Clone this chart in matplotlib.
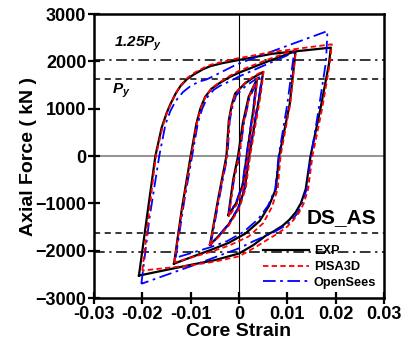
import matplotlib
matplotlib.use("Agg")
import matplotlib.pyplot as plt
import numpy as np

plt.rcParams["font.family"] = ["Liberation Sans", "DejaVu Sans"]
plt.rcParams["font.weight"] = "bold"
plt.rcParams["mathtext.fontset"] = "custom"
plt.rcParams["mathtext.it"] = "Liberation Sans:italic:bold"
plt.rcParams["mathtext.rm"] = "Liberation Sans:italic:bold"

# Yield force of the core (kN)
PY = 1620

# Hysteresis loops, each listed as (core strain, axial force in kN)
EXP_SMALL = [(-0.0022, -1250), (-0.0012, -500), (-0.0002, 0), (0.0008, 700), (0.0020, 1250),
             (0.0037, 1620), (0.0030, 1000), (0.0016, 0), (0.0008, -600), (-0.0006, -1000),
             (-0.0022, -1250)]
EXP_INNER = [(-0.0060, -1874), (-0.0043, -900), (-0.0026, 0), (-0.0021, 760), (-0.0015, 1080),
             (-0.0008, 1320), (0.0012, 1530), (0.0030, 1660), (0.0050, 1775), (0.0043, 1300),
             (0.0021, 0), (0.0012, -680), (-0.0001, -1100), (-0.0022, -1453), (-0.0043, -1699),
             (-0.0060, -1874)]
EXP_MID = [(-0.01345, -2274), (-0.0118, -1100), (-0.0100, 0), (-0.0088, 690), (-0.0080, 1000),
           (-0.0070, 1250), (-0.0057, 1420), (-0.0042, 1530), (-0.0019, 1670), (0.0, 1760),
           (0.0060, 2000), (0.0117, 2217), (0.0105, 1100), (0.0083, 0), (0.0076, -702),
           (0.0062, -1053), (0.0043, -1370), (0.0013, -1640), (-0.0022, -1838), (-0.0057, -1979),
           (-0.01345, -2274)]
EXP_BIG = [(-0.0207, -2526), (-0.0190, -1250), (-0.0173, 0), (-0.0160, 600), (-0.0150, 900),
           (-0.0142, 1095), (-0.0131, 1320), (-0.0121, 1480), (-0.0108, 1620), (-0.0093, 1726),
           (-0.0075, 1830), (-0.0059, 1900), (-0.0035, 1960), (-0.0010, 2010), (0.0069, 2160),
           (0.0190, 2290), (0.0186, 1940), (0.0169, 1025), (0.0148, 0), (0.0138, -700),
           (0.0128, -1000), (0.0117, -1193), (0.0104, -1350), (0.0090, -1474), (0.0072, -1590),
           (0.0055, -1684), (0.0030, -1880), (0.0, -2060), (-0.0050, -2200), (-0.0100, -2300),
           (-0.0207, -2526)]

PISA_SMALL = [(-0.0021, -1280), (-0.0011, -520), (0.0000, 0), (0.0010, 720), (0.0022, 1270),
              (0.0038, 1650), (0.0032, 1000), (0.0018, 0), (0.0010, -620), (-0.0005, -1030),
              (-0.0021, -1280)]
PISA_INNER = [(-0.0060, -1880), (-0.0042, -900), (-0.0025, 0), (-0.0020, 780), (-0.0014, 1100),
              (-0.0007, 1330), (0.0013, 1550), (0.0031, 1690), (0.0051, 1800), (0.0045, 1300),
              (0.0023, 0), (0.0014, -680), (0.0, -1120), (-0.0022, -1480), (-0.0043, -1720),
              (-0.0060, -1880)]
PISA_MID = [(-0.0134, -2250), (-0.0117, -1100), (-0.0099, 0), (-0.0087, 700), (-0.0079, 1010),
            (-0.0069, 1260), (-0.0056, 1440), (-0.0041, 1550), (-0.0018, 1700), (0.0, 1800),
            (0.0060, 2040), (0.0118, 2250), (0.0106, 1100), (0.0086, 0), (0.0080, -700),
            (0.0068, -1080), (0.0050, -1420), (0.0020, -1700), (-0.0020, -1890), (-0.0057, -2020),
            (-0.0134, -2250)]
PISA_BIG = [(-0.0200, -2420), (-0.0186, -1200), (-0.0172, 0), (-0.0158, 620), (-0.0149, 920),
            (-0.0140, 1120), (-0.0130, 1340), (-0.0120, 1500), (-0.0107, 1650), (-0.0092, 1760),
            (-0.0074, 1860), (-0.0058, 1930), (-0.0034, 1990), (-0.0010, 2050), (0.0070, 2200),
            (0.0192, 2360), (0.0188, 1960), (0.0172, 1000), (0.0152, 0), (0.0143, -700),
            (0.0134, -1000), (0.0124, -1200), (0.0112, -1360), (0.0100, -1490), (0.0080, -1640),
            (0.0060, -1760), (0.0030, -1950), (0.0, -2120), (-0.0050, -2230), (-0.0100, -2310),
            (-0.0200, -2420)]

OPS_SMALL = [(-0.0021, -1220), (-0.0010, -480), (0.0001, 0), (0.0010, 680), (0.0021, 1200),
             (0.0036, 1560), (0.0029, 960), (0.0015, 0), (0.0007, -600), (-0.0006, -980),
             (-0.0021, -1220)]
OPS_INNER = [(-0.0059, -1900), (-0.0041, -900), (-0.0024, 0), (-0.0019, 760), (-0.0013, 1060),
             (-0.0006, 1280), (0.0014, 1480), (0.0030, 1590), (0.0048, 1700), (0.0042, 1300),
             (0.0020, 0), (0.0011, -680), (-0.0002, -1100), (-0.0023, -1450), (-0.0043, -1700),
             (-0.0059, -1900)]
OPS_MID = [(-0.0131, -2150), (-0.0114, -1000), (-0.0097, 0), (-0.0085, 700), (-0.0076, 1000),
           (-0.0065, 1250), (-0.0052, 1400), (-0.0040, 1480), (-0.0015, 1600), (0.0, 1680),
           (0.0114, 2190), (0.0100, 1100), (0.0082, 0), (0.0075, -700), (0.0060, -1050),
           (0.0040, -1330), (0.0010, -1600), (-0.0025, -1800), (-0.0060, -1930), (-0.0131, -2150)]
OPS_BIG = [(-0.0202, -2700), (-0.0185, -1300), (-0.0165, 0), (-0.0152, 674), (-0.0142, 950),
           (-0.0131, 1164), (-0.0116, 1350), (-0.0100, 1480), (-0.0083, 1570), (-0.0066, 1621),
           (-0.0035, 1780), (-0.0004, 1940), (0.0183, 2640), (0.0180, 2000), (0.0165, 1000),
           (0.0149, 0), (0.0140, -700), (0.0130, -1000), (0.0122, -1200), (0.0110, -1340),
           (0.0100, -1450), (0.0070, -1620), (0.0030, -1800), (0.0, -1950), (-0.0050, -2140),
           (-0.0100, -2330), (-0.0202, -2700)]

EXP_LOOPS = [EXP_SMALL, EXP_INNER, EXP_MID, EXP_BIG]
PISA_LOOPS = [PISA_SMALL, PISA_INNER, PISA_MID, PISA_BIG]
OPS_LOOPS = [OPS_SMALL, OPS_INNER, OPS_MID, OPS_BIG]

X_TICKS = [-0.03, -0.02, -0.01, 0, 0.01, 0.02, 0.03]
X_TICK_LABELS = ["-0.03", "-0.02", "-0.01", "0", "0.01", "0.02", "0.03"]
Y_TICKS = [-3000, -2000, -1000, 0, 1000, 2000, 3000]

fig = plt.figure(figsize=(4.09, 3.45), dpi=100)
ax = fig.add_axes([0.2298, 0.1362, 0.7091, 0.8232])

# reference lines
ax.axhline(0, color="#808080", lw=1.2, zorder=1)
ax.axvline(0, color="black", lw=0.8, zorder=1)
for s in (1, -1):
    ax.axhline(s * PY, color="black", lw=1.1, ls=(0, (4, 3)), zorder=1)
    ax.axhline(s * 1.25 * PY, color="black", lw=1.1, ls=(0, (7, 3, 1.5, 3)), zorder=1)


def draw(loops, **kw):
    label = kw.pop("label")
    for i, loop in enumerate(loops):
        pts = np.array(loop)
        ax.plot(pts[:, 0], pts[:, 1], label=label if i == 0 else None, **kw)


draw(EXP_LOOPS, color="black", lw=1.6, label="EXP", zorder=3)
draw(OPS_LOOPS, color="#0000ff", lw=1.3, ls=(0, (7, 2.5, 1.5, 2.5)), label="OpenSees", zorder=4)
draw(PISA_LOOPS, color="#ff0000", lw=1.3, ls=(0, (3, 1.8)), label="PISA3D", zorder=5)

ax.text(-0.0258, 2360, r"$1.25P_y$", fontsize=11, ha="left", va="center")
ax.text(-0.0262, 1380, r"$P_y$", fontsize=11, ha="left", va="center")
ax.text(0.0213, -1300, "DS_AS", fontsize=15, fontweight="bold", ha="center", va="center")

handles, labels = ax.get_legend_handles_labels()
order = [labels.index(n) for n in ("EXP", "PISA3D", "OpenSees")]
leg = ax.legend([handles[i] for i in order], [labels[i] for i in order],
                loc="lower right", bbox_to_anchor=(1.0, 0.005), frameon=False,
                fontsize=9.2, handlelength=3.6, handletextpad=0.4, labelspacing=0.3,
                borderaxespad=0.2)

ax.set_xlim(-0.03, 0.03)
ax.set_ylim(-3000, 3000)
ax.set_xticks(X_TICKS)
ax.set_xticklabels(X_TICK_LABELS)
ax.set_yticks(Y_TICKS)
ax.tick_params(axis="both", direction="inout", length=8, width=1.6, labelsize=13, pad=1.5)
ax.tick_params(top=False, right=False)
for sp in ax.spines.values():
    sp.set_linewidth(1.8)

ax.set_xlabel("Core Strain", fontsize=14, fontweight="bold", labelpad=0)
ax.set_ylabel("Axial Force ( kN )", fontsize=14, fontweight="bold", labelpad=-1)

fig.savefig("out.png", dpi=100)
